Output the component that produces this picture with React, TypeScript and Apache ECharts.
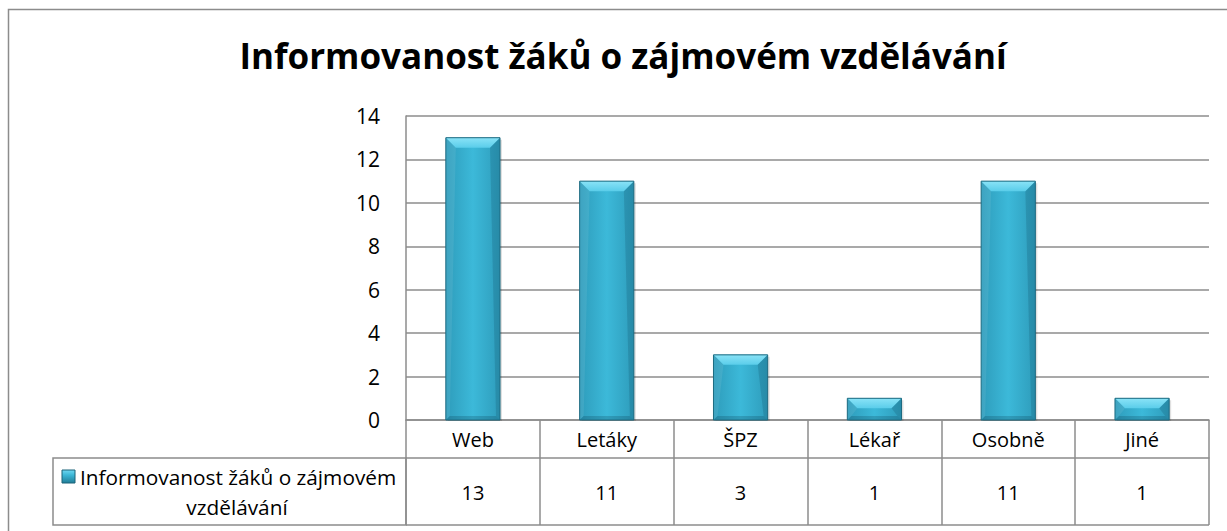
import React, { useEffect, useRef } from "react";
import * as echarts from "echarts";

const TITLE = "Informovanost žáků o zájmovém vzdělávání";
const SERIES_NAME_LINE1 = "Informovanost žáků o zájmovém";
const SERIES_NAME_LINE2 = "vzdělávání";
const categories = ["Web", "Letáky", "ŠPZ", "Lékař", "Osobně", "Jiné"];
const values = [13, 11, 3, 1, 11, 1];
const yTicks = { min: 0, max: 14, interval: 2 };

const FONT = "'Open Sans', 'Liberation Sans', sans-serif";
const LINE = "#8c8c8c";

export default function App() {
  const ref = useRef<HTMLDivElement>(null);
  useEffect(() => {
    if (!ref.current) return;
    const chart = echarts.init(ref.current, null, { renderer: "svg" });
    const gridLeft = 406;
    const gridRight = 18;
    const gridTop = 116;
    const gridBottom = 111;
    const H = 531;
    const axisY = H - gridBottom; // 420
    const row1 = 38;
    const row2 = 67;

    const option: any = {
      animation: false,
      backgroundColor: "#ffffff",
      textStyle: { fontFamily: FONT },
      title: {
        text: TITLE,
        left: 618,
        textAlign: "center",
        top: 33,
        textStyle: { fontFamily: FONT, fontSize: 35, fontWeight: "bold", color: "#000" },
      },
      grid: { left: gridLeft, right: gridRight, top: gridTop, bottom: gridBottom, containLabel: false },
      xAxis: [
        {
          type: "category",
          data: categories,
          boundaryGap: true,
          axisLine: { show: true, lineStyle: { color: LINE, width: 1.5 } },
          axisTick: { show: true, length: row1, interval: 0, lineStyle: { color: LINE, width: 1.5 } },
          axisLabel: { margin: 19, verticalAlign: "middle", fontSize: 20, color: "#000", fontFamily: FONT, interval: 0 },
          splitLine: { show: false },
        },
        {
          type: "category",
          data: values.map((v) => String(v)),
          position: "bottom",
          offset: row1,
          boundaryGap: true,
          axisLine: { show: true, lineStyle: { color: LINE, width: 1.5 } },
          axisTick: { show: true, length: row2, interval: 0, lineStyle: { color: LINE, width: 1.5 } },
          axisLabel: { margin: 34, verticalAlign: "middle", fontSize: 20, color: "#000", fontFamily: FONT, interval: 0 },
        },
      ],
      yAxis: {
        type: "value",
        min: yTicks.min,
        max: yTicks.max,
        interval: yTicks.interval,
        axisLine: { show: true, lineStyle: { color: LINE, width: 1.5 } },
        axisTick: { show: false },
        axisLabel: { margin: 26, fontSize: 21, color: "#000", fontFamily: FONT },
        splitLine: { show: true, lineStyle: { color: LINE, width: 1.5 } },
      },
      graphic: [
        {
          type: "rect",
          shape: { x: 8.5, y: 9.5, width: 1400, height: 700 },
          style: { fill: "none", stroke: LINE, lineWidth: 1.5 },
          silent: true,
        },
        {
          type: "rect",
          shape: { x: 53, y: axisY + row1, width: gridLeft - 53, height: row2 },
          style: { fill: "none", stroke: LINE, lineWidth: 1.5 },
          silent: true,
        },
        {
          type: "line",
          shape: { x1: gridLeft, y1: axisY + row1 + row2, x2: 1227 - gridRight, y2: axisY + row1 + row2 },
          style: { stroke: LINE, lineWidth: 1.5 },
          silent: true,
        },
        {
          type: "rect",
          shape: { x: 62, y: 470, width: 13, height: 13 },
          style: {
            fill: new echarts.graphic.LinearGradient(0, 0, 0, 1, [
              { offset: 0, color: "#6fd8f2" },
              { offset: 0.4, color: "#3bb6d6" },
              { offset: 1, color: "#217d97" },
            ]),
            stroke: "#1b6378",
            lineWidth: 1,
          },
          silent: true,
        },
        {
          type: "text",
          x: 80,
          y: 477,
          style: { text: SERIES_NAME_LINE1, fontSize: 20.8, fontFamily: FONT, fill: "#000", verticalAlign: "middle", align: "left" },
          silent: true,
        },
        {
          type: "text",
          x: 237,
          y: 507,
          style: { text: SERIES_NAME_LINE2, fontSize: 20.8, fontFamily: FONT, fill: "#000", verticalAlign: "middle", align: "center" },
          silent: true,
        },
      ],
      series: [
        {
          type: "custom",
          name: TITLE,
          xAxisIndex: 0,
          yAxisIndex: 0,
          data: values.map((v, i) => [i, v]),
          encode: { x: 0, y: 1 },
          renderItem: (params: any, api: any) => {
            const idx = api.value(0);
            const val = api.value(1);
            const top = api.coord([idx, val]);
            const base = api.coord([idx, 0]);
            const bw = api.size([1, 0])[0] * 0.405;
            const x0 = top[0] - bw / 2;
            const x1 = x0 + bw;
            const y0 = top[1];
            const y1 = base[1];
            const b = Math.min(10, (y1 - y0) / 2);
            const sb = Math.min(4, (y1 - y0) / 4);
            const sideGrad = new echarts.graphic.LinearGradient(0, 0, 1, 0, [
              { offset: 0, color: "#2e9cbb" },
              { offset: 0.5, color: "#3cb9d9" },
              { offset: 1, color: "#2e9cbb" },
            ]);
            return {
              type: "group",
              children: [
                {
                  type: "rect",
                  shape: { x: x0 + 2, y: y0 + 2, width: bw, height: y1 - y0 - 1 },
                  style: { fill: "rgba(0,0,0,0.12)" },
                },
                {
                  type: "rect",
                  shape: { x: x0, y: y0, width: bw, height: y1 - y0 },
                  style: { fill: sideGrad },
                },
                {
                  type: "polygon",
                  shape: { points: [[x0, y0], [x1, y0], [x1 - b, y0 + b], [x0 + b, y0 + b]] },
                  style: {
                    fill: new echarts.graphic.LinearGradient(0, 0, 0, 1, [
                      { offset: 0, color: "#8ae3f7" },
                      { offset: 1, color: "#5acdea" },
                    ]),
                  },
                },
                {
                  type: "polygon",
                  shape: { points: [[x0, y0], [x0 + b, y0 + b], [x0 + sb, y1 - sb], [x0, y1]] },
                  style: { fill: "rgba(255,255,255,0.08)" },
                },
                {
                  type: "polygon",
                  shape: { points: [[x1, y0], [x1 - b, y0 + b], [x1 - sb, y1 - sb], [x1, y1]] },
                  style: { fill: "rgba(0,40,60,0.15)" },
                },
                {
                  type: "polygon",
                  shape: { points: [[x0, y1], [x0 + sb, y1 - sb], [x1 - sb, y1 - sb], [x1, y1]] },
                  style: { fill: "rgba(0,40,60,0.2)" },
                },
                {
                  type: "rect",
                  shape: { x: x0, y: y0, width: bw, height: y1 - y0 },
                  style: { fill: "none", stroke: "#1c6a80", lineWidth: 1 },
                },
              ],
            };
          },
        },
      ],
    };
    chart.setOption(option);
    return () => chart.dispose();
  }, []);
  return (
    <div
      ref={ref}
      style={{ position: "fixed", left: 0, top: 0, width: 1227, height: 531 }}
    />
  );
}
